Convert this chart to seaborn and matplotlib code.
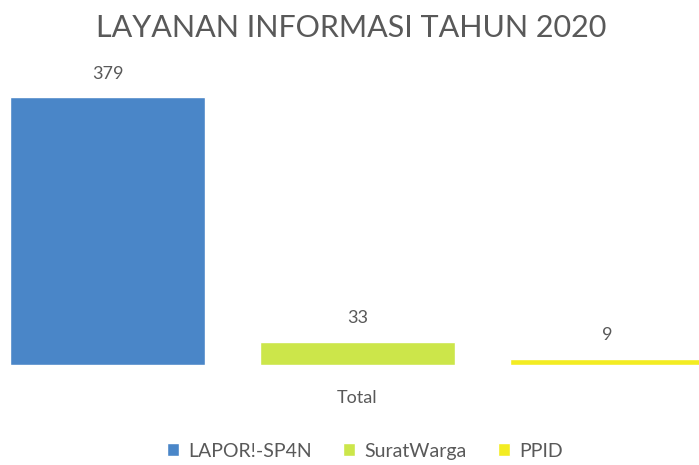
import matplotlib
matplotlib.use("Agg")
import matplotlib.pyplot as plt
import seaborn as sns
import pandas as pd

title = "LAYANAN INFORMASI TAHUN 2020"
category = ["Total", "Total", "Total"]
series = ["LAPOR!-SP4N", "SuratWarga", "PPID"]
values = [379, 33, 9]
colors = ["#4a86c8", "#cce64a", "#f3ec22"]

sns.set_theme(style="white")
plt.rcParams['font.family'] = ['Lato', 'DejaVu Sans']
text_color = "#595959"

df = pd.DataFrame({"cat": category, "series": series, "value": values})

fig = plt.figure(figsize=(6.99, 4.65), dpi=100)
ax = fig.add_axes([0.0, 100/465, 1.0, 305/465])

sns.barplot(data=df, x="cat", y="value", hue="series", hue_order=series,
            palette=colors, width=0.8, gap=0.22, ax=ax, legend=True,
            saturation=1)

ax.set_xlim(-357.5/937.5, 341.5/937.5)
ax.set_ylim(0, 431.3)
for c in ax.containers:
    ax.bar_label(c, padding=11, fontsize=13, color=text_color)

for s in ax.spines.values():
    s.set_visible(False)
ax.set_yticks([])
ax.set_ylabel("")
ax.set_xlabel("")
ax.tick_params(axis="x", length=0, pad=18, labelsize=13, labelcolor=text_color)

fig.text(351/699, 1 - 28/465, title, ha="center", va="center",
         fontsize=22, color=text_color, fontweight="normal")

handles, labels = ax.get_legend_handles_labels()
ax.legend_.remove()
fig.legend(handles, labels, loc="center", bbox_to_anchor=(365/699, 1 - 451/465),
           ncol=3, frameon=False, fontsize=14, handlelength=0.6, handleheight=0.6,
           columnspacing=1.6, handletextpad=0.5, labelcolor=text_color)

fig.savefig("out.png", dpi=100)
